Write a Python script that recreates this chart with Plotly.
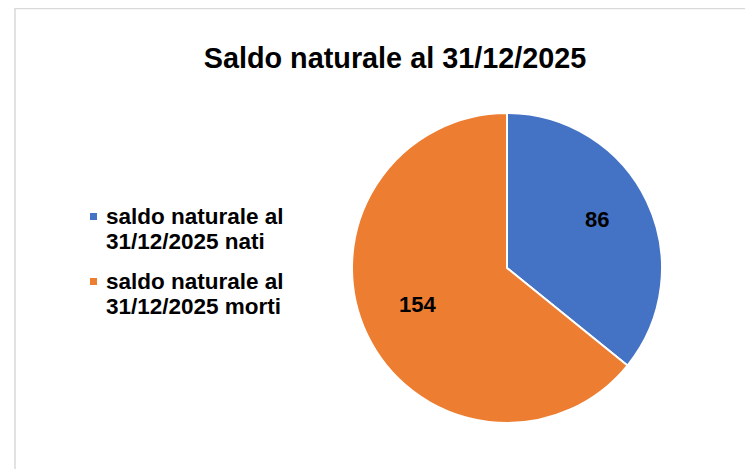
import math
import plotly.graph_objects as go

labels = ["saldo naturale al<br>31/12/2025 nati", "saldo naturale al<br>31/12/2025 morti"]
values = [86, 154]
colors = ["#4472C4", "#ED7D31"]
title_text = "Saldo naturale al 31/12/2025"

W, H = 753, 469
OFF = 8  # page body margin
FONT = "Liberation Sans, Arial"


def X(px):
    return (px - OFF) / W


def Y(py):
    return 1 - (py - OFF) / H


# pie geometry (px in screenshot)
CX, CY, R = 507, 268, 155

fig = go.Figure(go.Pie(
    labels=labels,
    values=values,
    sort=False,
    direction="clockwise",
    rotation=0,
    marker=dict(colors=colors, line=dict(color="white", width=2)),
    textinfo="none",
    showlegend=False,
    domain=dict(x=[X(CX - R), X(CX + R)], y=[Y(CY + R), Y(CY - R)]),
    hoverinfo="label+value",
))

annotations = []
# data labels placed at slice mid-angle, computed from the values
total = sum(values)
start = 0.0
for v in values:
    mid = (start + v / 2) / total * 2 * math.pi
    start += v
    r = 0.64 * R
    px = CX + r * math.sin(mid)
    py = CY - r * math.cos(mid) - 6
    annotations.append(dict(x=X(px), y=Y(py), xref="paper", yref="paper", text=str(v),
                            showarrow=False, xanchor="center", yanchor="middle",
                            font=dict(family=FONT, size=22, color="black", weight="bold")))

# manual legend
shapes = [dict(type="rect", xref="paper", yref="paper",
               x0=X(15), x1=1.05, y0=-0.05, y1=Y(8.5),
               line=dict(color="#D9D9D9", width=1.5), fillcolor="rgba(0,0,0,0)", layer="below")]
leg_y = [216, 281]
LINE_GAP = 25.5
for lab, col, ly in zip(labels, colors, leg_y):
    for i, line in enumerate(lab.split("<br>")):
        annotations.append(dict(x=X(104), y=Y(ly + i * LINE_GAP), xref="paper", yref="paper", text=line,
                                showarrow=False, xanchor="left", yanchor="middle", align="left",
                                font=dict(family=FONT, size=22.5, color="black", weight="bold")))
    sq_top = ly - 3
    shapes.append(dict(type="rect", xref="paper", yref="paper",
                       x0=X(90), x1=X(97), y0=Y(sq_top + 7), y1=Y(sq_top),
                       line=dict(width=0), fillcolor=col))

fig.update_layout(
    width=W, height=H,
    margin=dict(l=0, r=0, t=0, b=0),
    paper_bgcolor="white",
    plot_bgcolor="white",
    showlegend=False,
    title=dict(text=title_text, x=X(395), xanchor="center", y=Y(58), yanchor="middle",
               font=dict(family=FONT, size=28.8, color="black", weight="bold")),
    shapes=shapes,
    annotations=annotations,
)

fig.write_html("out.html")
